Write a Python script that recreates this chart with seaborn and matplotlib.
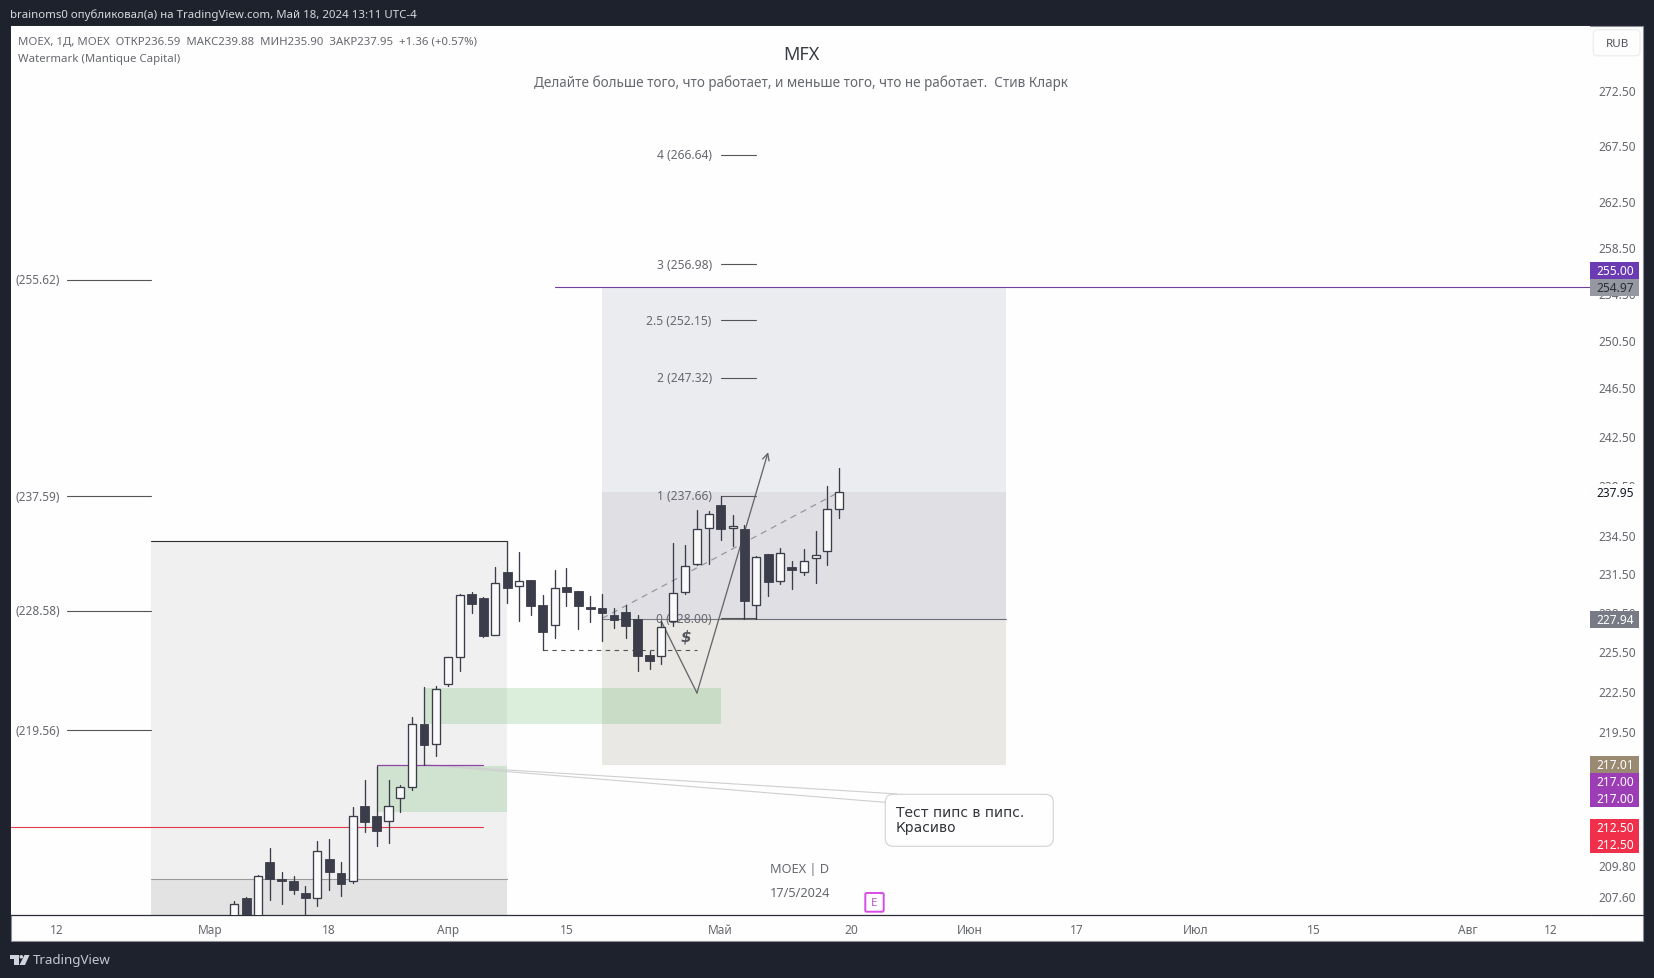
import numpy as np
import pandas as pd
import seaborn as sns
from matplotlib import pyplot as plt
from matplotlib.patches import FancyBboxPatch, Rectangle, Polygon, Circle
from matplotlib.ticker import NullLocator
from matplotlib.transforms import IdentityTransform

# daily candles, oldest first (first three open/low are below the visible pane)
opens = [205.5, 207.47, 205.6, 209.99, 208.82, 208.66, 207.82, 207.47, 210.21, 209.22,
         208.66, 213.99, 213.27, 212.91, 214.57, 215.37, 220.00, 218.52, 222.99, 225.03,
         229.90, 229.59, 226.76, 231.61, 230.50, 230.96, 229.05, 227.48, 230.42, 230.13,
         228.87, 228.79, 228.27, 228.48, 227.94, 225.18, 225.16, 227.79, 230.03, 232.22,
         235.06, 236.89, 235.06, 235.00, 229.02, 233.03, 230.89, 231.98, 231.59, 232.69,
         233.24, 236.59]
highs = [207.26, 207.54, 209.05, 210.99, 209.29, 209.01, 208.31, 211.51, 211.63, 209.99,
         213.92, 215.88, 216.95, 215.88, 215.52, 220.52, 222.76, 222.89, 225.05, 229.87,
         230.03, 229.67, 232.01, 234.03, 233.16, 231.00, 229.82, 231.74, 231.93, 230.15,
         229.77, 229.87, 228.79, 229.05, 228.27, 225.51, 227.84, 233.89, 233.74, 236.52,
         236.41, 237.66, 236.12, 235.30, 232.85, 233.05, 233.47, 232.45, 233.42, 234.84,
         238.41, 239.88]
lows = [205.0, 205.2, 205.3, 207.30, 207.07, 207.77, 206.0, 206.88, 208.05, 207.58,
        208.49, 212.10, 211.10, 211.32, 213.54, 215.13, 217.00, 217.68, 222.89, 224.02,
        228.45, 226.58, 226.72, 229.20, 227.81, 228.30, 225.56, 226.53, 228.92, 227.22,
        227.76, 226.23, 227.30, 226.53, 224.02, 224.15, 224.48, 227.45, 229.85, 232.16,
        232.24, 234.13, 233.63, 227.96, 227.94, 229.77, 230.70, 230.29, 231.33, 230.78,
        232.16, 235.90]
closes = [207.03, 205.6, 209.01, 208.77, 208.63, 208.00, 207.44, 210.77, 209.26, 208.42,
          213.27, 212.82, 212.18, 213.97, 215.35, 220.00, 218.49, 222.66, 225.03, 229.80,
          229.15, 226.66, 230.73, 230.39, 230.89, 228.92, 226.92, 230.34, 230.08, 228.92,
          228.76, 228.45, 227.91, 227.45, 225.16, 224.78, 227.33, 230.00, 232.06, 234.98,
          236.17, 235.03, 235.21, 229.31, 232.77, 230.86, 233.13, 231.74, 232.50, 232.97,
          236.59, 237.95]

price_ticks = [272.50, 267.50, 262.50, 258.50, 254.50, 250.50, 246.50, 242.50, 238.50, 234.50,
               231.50, 228.50, 225.50, 222.50, 219.50, 209.80, 207.60]
time_tick_bars = [-15, -2, 8, 18, 28, 41, 52, 62, 71, 81, 91, 104, 111]
time_tick_labels = ['12', 'Мар', '18', 'Апр', '15', 'Май', '20', 'Июн', '17', 'Июл', '15', 'Авг', '12']
month_labels = ['Мар', 'Апр', 'Май', 'Июн', 'Июл', 'Авг']

fib_levels = [266.64, 256.98, 252.15, 247.32, 237.66, 228.00]
fib_names = ['4 (266.64)', '3 (256.98)', '2.5 (252.15)', '2 (247.32)', '1 (237.66)', '0 (228.00)']
left_levels = [255.62, 237.59, 228.58, 219.56]
left_names = ['(255.62)', '(237.59)', '(228.58)', '(219.56)']

tag_labels = ['255.00', '254.97', '237.95', '227.94', '217.01', '217.00', '217.00', '212.50', '212.50']

W, H = 1654, 979
DARK = '#1e222d'
EDGE = '#3c3d4a'
TEXT = '#66686f'
AX_LEFT, AX_RIGHT, AX_TOP, AX_BOTTOM = 11, 1590, 27, 916
BAR_STEP = 11.863
FIRST_BAR_X = 234.3


def px(x, y):
    return x / W, 1 - y / H


sns.set_theme(style='white')
plt.rcParams['font.family'] = ['Noto Sans', 'DejaVu Sans']

fig = plt.figure(figsize=(W / 100, H / 100), dpi=100, facecolor=DARK)
ax = fig.add_axes([AX_LEFT / W, 1 - AX_BOTTOM / H, (AX_RIGHT - AX_LEFT) / W, (AX_BOTTOM - AX_TOP) / H])
ax.set_facecolor('#fefefe')

panel = Rectangle(px(10.5, 942), 1632.5 / W, 915 / H, transform=fig.transFigure,
                  fc='#fefefe', ec='#8b8e96', lw=0.8, zorder=-1)
fig.add_artist(panel)

candles = pd.DataFrame({'bar': np.arange(len(opens)), 'open': opens, 'high': highs, 'low': lows, 'close': closes})
wicks = candles.melt(id_vars='bar', value_vars=['high', 'low'], value_name='price')

ax.set_yscale('log')

# shaded regions
ax.fill_between([-7, 23], 205, 234.03, color='#f0f0f0', lw=0, zorder=1)
ax.fill_between([-7, 23], 205, 208.82, color='#e3e3e3', lw=0, zorder=1.1)
ax.plot([-7, 23], [208.82, 208.82], color='#9a9a9a', lw=0.8, zorder=1.2)
ax.plot([-7, 23], [234.03, 234.03], color='#2c2c30', lw=0.8, zorder=3)
ax.fill_between([31, 65.05], 237.95, 254.97, color='#ebecef', lw=0, zorder=1)
ax.fill_between([31, 65.05], 227.94, 237.95, color='#dfdfe4', lw=0, zorder=1)
ax.fill_between([31, 65.05], 217.01, 227.94, color='#e9e8e4', lw=0, zorder=1)
ax.fill_between([16, 41], 220.05, 222.69, color='#4caf50', alpha=0.2, lw=0, zorder=2)
ax.fill_between([12, 23], 213.59, 216.95, color='#4caf50', alpha=0.2, lw=0, zorder=2)

# horizontal levels
ax.plot([27, 114.3], [254.97, 254.97], color='#71409c', lw=0.8, zorder=3)
ax.plot([41, 65.05], [227.94, 227.94], color='#6c6e79', lw=0.8, zorder=3)
ax.plot([31, 41], [227.94, 227.94], color='#787a85', lw=0.8, zorder=3)
ax.plot([-18.82, 21], [212.49, 212.49], color='#e0394d', lw=0.8, zorder=3)

# fib levels and their labels
for level, name in zip(fib_levels, fib_names):
    ax.plot([41, 44], [level, level], color='#555555', lw=0.8, zorder=3)
    ax.text(40.25, level, name, ha='right', va='center', fontsize=8.7, color=TEXT, zorder=3.5)
for level, name in zip(left_levels, left_names):
    ax.plot([-14.1, -7], [level, level], color='#555555', lw=0.8, zorder=3)
    ax.text(-14.72, level, name, ha='right', va='center', fontsize=8.5, color=TEXT, zorder=3.5)

# drawings
ax.plot([16, 55.84], [217.0, 214.88], color='#cfcfcf', lw=0.8, zorder=3)
ax.plot([16, 54.85], [217.0, 214.27], color='#cfcfcf', lw=0.8, zorder=3)
ax.plot([12, 21], [217.0, 217.0], color='#8e44a8', lw=0.9, zorder=3.2)
ax.plot([31, 51], [228.0, 237.95], color='#97989f', lw=0.9, ls=(0, (5, 4)), zorder=3)
ax.plot([26, 39], [225.56, 225.56], color='#55565c', lw=0.8, ls=(0, (4, 4)), zorder=3)
ax.text(38.1, 226.63, '$', ha='center', va='center', fontsize=11, fontweight='bold', style='italic',
        family=['DejaVu Sans'], color='#55565c', zorder=3.5)
ax.plot([36.03, 39], [227.71, 222.33], color='#66676c', lw=0.95, zorder=3.5)
ax.annotate('', xy=(45, 241.17), xytext=(39, 222.33), zorder=3.5,
            arrowprops=dict(arrowstyle='->', color='#66676c', lw=0.95, shrinkA=0, shrinkB=0, mutation_scale=12))

# candles
sns.lineplot(data=wicks, x='bar', y='price', units='bar', estimator=None, color=EDGE, lw=0.95,
             legend=False, ax=ax, zorder=4)
up = candles[candles['close'] >= candles['open']]
down = candles[candles['close'] < candles['open']]
ax.bar(up['bar'], up['close'] - up['open'], bottom=up['open'], width=0.68,
       color='#fafafa', edgecolor=EDGE, linewidth=0.95, zorder=5)
ax.bar(down['bar'], down['open'] - down['close'], bottom=down['close'], width=0.74,
       color='#3c3d4a', edgecolor=EDGE, linewidth=0.6, zorder=5)

ax.set_xlim((AX_LEFT - FIRST_BAR_X) / BAR_STEP, (AX_RIGHT - FIRST_BAR_X) / BAR_STEP)
ax.set_ylim(206.27, 278.5)
ax.set_xlabel('')
ax.set_ylabel('')

ax.yaxis.set_minor_locator(NullLocator())
ax.yaxis.tick_right()
ax.set_yticks(price_ticks)
ax.set_yticklabels([f'{p:.2f}' for p in price_ticks], fontsize=8.6, color=TEXT)
ax.set_xticks(time_tick_bars)
ax.set_xticklabels(time_tick_labels, fontsize=8.6, color=TEXT)
for label in ax.get_xticklabels():
    if label.get_text() in month_labels:
        label.set_fontweight('bold')
ax.tick_params(axis='x', length=0, pad=6)
ax.tick_params(axis='y', length=0, pad=6)
for side in ['left', 'right', 'top']:
    ax.spines[side].set_visible(False)
ax.spines['bottom'].set_color('#2a2e39')
ax.spines['bottom'].set_linewidth(0.9)
fig.add_artist(plt.Line2D([1591 / W, 1643 / W], [1 - 916 / H, 1 - 916 / H], color='#2a2e39', lw=0.9, zorder=2))

# price tags on the right
tag_tops = [263.3, 280, 485, 612, 757, 774, 791, 820, 837]
tag_colors = ['#6a3bb3', '#9598a1', '#fdfdfd', '#787b86', '#9b8a72', '#9c3db5', '#9c3db5', '#f0304a', '#f0304a']
tag_text = ['white', '#2a2e39', '#131722', 'white', 'white', 'white', 'white', 'white', 'white']
for label, top, color, text_color in zip(tag_labels, tag_tops, tag_colors, tag_text):
    fig.add_artist(Rectangle(px(1590, top + 17), 48.7 / W, 17 / H, transform=fig.transFigure,
                             fc=color, ec='none', zorder=5))
    fig.text(*px(1615.5, top + 8.3), label, ha='center', va='center', fontsize=8.6, color=text_color,
             fontweight='bold' if text_color == 'white' else 'normal', zorder=6)

# callout box
fig.add_artist(FancyBboxPatch((885.3, H - 847.3), 168, 52, boxstyle='round,pad=0,rounding_size=8',
                              transform=IdentityTransform(), fc='#fefefe', ec='#d2d2d2', lw=0.8, zorder=4))
fig.text(*px(895.7, 820.5), 'Тест пипс в пипс.\nКрасиво', ha='left', va='center', fontsize=10, color='#33353b',
         family=['DejaVu Sans'], linespacing=1.12, zorder=6)

# RUB button
fig.add_artist(FancyBboxPatch((1593.3, H - 56.7), 46.7, 26, boxstyle='round,pad=0,rounding_size=4',
                              transform=IdentityTransform(), fc='#fefefe', ec='#eeeeee', lw=1, zorder=4))
fig.text(*px(1617.5, 44.5), 'RUB', ha='center', va='center', fontsize=8.4, color='#50535e', zorder=6)

# header, legend, watermark
fig.text(*px(10, 15), 'brainoms0 опубликовал(а) на TradingView.com, Май 18, 2024 13:11 UTC-4',
         ha='left', va='center', fontsize=8.25, color='#d6d8dc', zorder=6)
fig.text(*px(18, 42.5), 'MOEX, 1Д, MOEX  ОТКР236.59  МАКС239.88  МИН235.90  ЗАКР237.95  +1.36 (+0.57%)',
         ha='left', va='center', fontsize=8.2, color=TEXT, zorder=6)
fig.text(*px(18, 59.5), 'Watermark (Mantique Capital)', ha='left', va='center', fontsize=8.2, color=TEXT, zorder=6)
fig.text(*px(801, 55), 'MFX', ha='center', va='center', fontsize=13, color='#3a3c44', zorder=6)
fig.text(*px(801, 83), 'Делайте больше того, что работает, и меньше того, что не работает.  Стив Кларк',
         ha='center', va='center', fontsize=9.75, color=TEXT, zorder=6)
fig.text(*px(800, 870), 'MOEX | D', ha='center', va='center', fontsize=9.2, color=TEXT, zorder=6)
fig.text(*px(800, 894), '17/5/2024', ha='center', va='center', fontsize=9.2, color=TEXT, zorder=6)

# earnings marker
fig.add_artist(FancyBboxPatch((865.3, H - 912.7), 18.4, 18.7, boxstyle='round,pad=0,rounding_size=1.5',
                              transform=IdentityTransform(), fc='#fefefe', ec='#d74be6', lw=1.4, zorder=4))
fig.text(*px(874.5, 903.3), 'E', ha='center', va='center', fontsize=8.4, color='#b45cc8', zorder=6)

# footer logo
logo = '#d1d4dc'
fig.add_artist(Polygon([(10 / W, 1 - 956 / H), (18.5 / W, 1 - 956 / H), (18.5 / W, 1 - 966 / H), (14 / W, 1 - 966 / H),
                        (14 / W, 1 - 959.5 / H), (10 / W, 1 - 959.5 / H)], transform=fig.transFigure, fc=logo, ec='none', zorder=6))
fig.add_artist(Circle((21.3, H - 957.8), 1.8, transform=IdentityTransform(), fc=logo, ec='none', zorder=6))
fig.add_artist(Polygon([(24.5 / W, 1 - 956 / H), (29.5 / W, 1 - 956 / H), (25 / W, 1 - 966 / H), (19.5 / W, 1 - 966 / H)],
                       transform=fig.transFigure, fc=logo, ec='none', zorder=6))
fig.text(*px(33, 961), 'TradingView', ha='left', va='center', fontsize=9.6, color='#c4c8d0', zorder=6)

fig.savefig('out.png', dpi=100, facecolor=DARK)
